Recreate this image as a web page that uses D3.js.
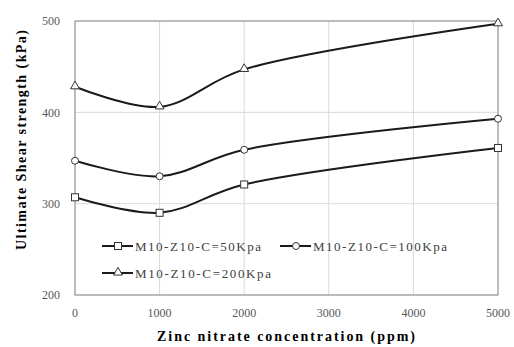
<!DOCTYPE html>
<html>
<head>
<meta charset="utf-8">
<script src="https://cdn.jsdelivr.net/npm/d3@7"></script>
<style>
body { margin:0; background:#fff; }
text { font-family: "Liberation Serif", "DejaVu Serif", serif; }
</style>
</head>
<body>
<div id="chart"></div>
<script>
// data
var conc = [0, 1000, 2000, 5000];
var c50 = [307, 290, 321, 361];
var c100 = [347, 330, 359, 393];
var c200 = [428, 406, 447, 497];
var seriesNames = ["M10-Z10-C=50Kpa", "M10-Z10-C=100Kpa", "M10-Z10-C=200Kpa"];
var markers = ["square", "circle", "triangle"];
var xTicks = [0, 1000, 2000, 3000, 4000, 5000];
var yTicks = [200, 300, 400, 500];

var width = 514, height = 347;
var margin = {top:21, right:16, bottom:52, left:75};
var w = width - margin.left - margin.right;
var h = height - margin.top - margin.bottom;

var svg = d3.select("#chart").append("svg")
    .attr("width", width)
    .attr("height", height);

var g = svg.append("g")
    .attr("transform", "translate(" + margin.left + "," + margin.top + ")");

var x = d3.scaleLinear().domain([0, 5000]).range([0, w]);
var y = d3.scaleLinear().domain([200, 500]).range([h, 0]);

// grid
g.selectAll(".hgrid")
    .data(yTicks)
    .enter().append("line")
    .attr("x1", 0).attr("x2", w)
    .attr("y1", function(d){ return y(d); })
    .attr("y2", function(d){ return y(d); })
    .attr("stroke", "#d9d9d9")
    .attr("stroke-width", 1);
g.selectAll(".vgrid")
    .data(xTicks)
    .enter().append("line")
    .attr("x1", function(d){ return x(d); })
    .attr("x2", function(d){ return x(d); })
    .attr("y1", 0).attr("y2", h)
    .attr("stroke", "#d9d9d9")
    .attr("stroke-width", 1);

// plot border
g.append("rect")
    .attr("x", 0).attr("y", 0)
    .attr("width", w).attr("height", h)
    .attr("fill", "none")
    .attr("stroke", "#8c8c8c")
    .attr("stroke-width", 1);

// axes labels
g.selectAll(".ylab")
    .data(yTicks)
    .enter().append("text")
    .attr("x", -15)
    .attr("y", function(d){ return y(d); })
    .attr("dy", "0.35em")
    .attr("text-anchor", "end")
    .attr("fill", "#595959")
    .style("font-size", "12px")
    .text(function(d){ return d; });

g.selectAll(".xlab")
    .data(xTicks)
    .enter().append("text")
    .attr("x", function(d){ return x(d); })
    .attr("y", h + 22)
    .attr("text-anchor", "middle")
    .attr("fill", "#595959")
    .style("font-size", "12px")
    .text(function(d){ return d; });

svg.append("text")
    .attr("x", 286)
    .attr("y", 341)
    .attr("text-anchor", "middle")
    .attr("textLength", 258)
    .attr("lengthAdjust", "spacing")
    .style("font-size", "14px")
    .style("font-weight", "bold")
    .text("Zinc nitrate concentration (ppm)");

svg.append("text")
    .attr("transform", "translate(26,140) rotate(-90)")
    .attr("text-anchor", "middle")
    .attr("textLength", 220)
    .attr("lengthAdjust", "spacing")
    .style("font-size", "14px")
    .style("font-weight", "bold")
    .text("Ultimate Shear strength (kPa)");

// lines
var allSeries = [c50, c100, c200];
var line = d3.line()
    .x(function(d, i){ return x(conc[i]); })
    .y(function(d){ return y(d); })
    .curve(d3.curveCatmullRom.alpha(0.5));

function drawMarker(sel, type, cx, cy) {
    if (type === "square") {
        sel.append("rect")
            .attr("x", cx - 3.5).attr("y", cy - 3.5)
            .attr("width", 7).attr("height", 7)
            .attr("fill", "#fff").attr("stroke", "#333").attr("stroke-width", 1);
    } else if (type === "circle") {
        sel.append("circle")
            .attr("cx", cx).attr("cy", cy).attr("r", 3.5)
            .attr("fill", "#fff").attr("stroke", "#333").attr("stroke-width", 1);
    } else {
        sel.append("path")
            .attr("d", d3.symbol().type(d3.symbolTriangle).size(34)())
            .attr("transform", "translate(" + cx + "," + (cy - 0.5) + ")")
            .attr("fill", "#fff").attr("stroke", "#333").attr("stroke-width", 1);
    }
}

allSeries.forEach(function(s, k){
    g.append("path")
        .datum(s)
        .attr("d", line)
        .attr("fill", "none")
        .attr("stroke", "#1a1a1a")
        .attr("stroke-width", 2);
    s.forEach(function(v, i){
        drawMarker(g, markers[k], x(conc[i]), y(v));
    });
});

// legend
var legendPos = [[27, 225], [205, 225], [27, 252]];
var legendLen = [126, 134, 136];
seriesNames.forEach(function(name, k){
    var lg = g.append("g");
    var lx = legendPos[k][0], ly = legendPos[k][1];
    lg.append("line")
        .attr("x1", lx).attr("x2", lx + 31)
        .attr("y1", ly).attr("y2", ly)
        .attr("stroke", "#1a1a1a").attr("stroke-width", 2);
    drawMarker(lg, markers[k], lx + 16, ly);
    lg.append("text")
        .attr("x", lx + 33)
        .attr("y", ly)
        .attr("dy", "0.35em")
        .attr("fill", "#404040")
        .attr("textLength", legendLen[k])
        .attr("lengthAdjust", "spacing")
        .style("font-size", "13px")
        .text(name);
});
</script>
</body>
</html>
